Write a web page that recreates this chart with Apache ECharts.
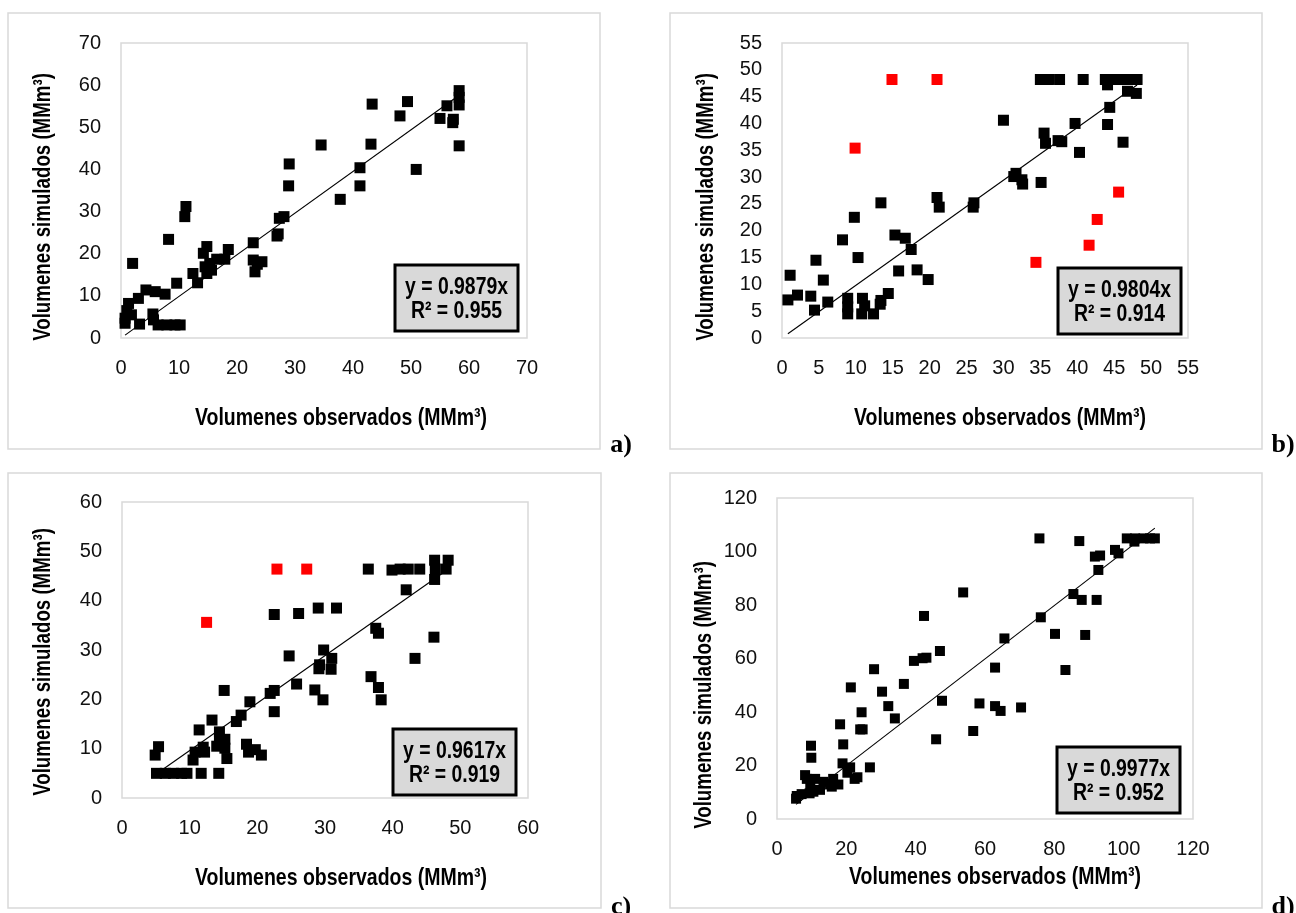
<!DOCTYPE html>
<html><head><meta charset="utf-8">
<script src="https://cdn.jsdelivr.net/npm/echarts/dist/echarts.min.js"></script>
<style>html,body{margin:0;padding:0;background:#fff;}#c{width:1296px;height:913px;}</style>
</head><body><div id="c"></div>
<script>
// ---- data ----
const obsA = [58.3,58.3,58.3,56.2,57.3,57.2,55.0,58.3,49.4,48.1,50.9,43.3,43.1,41.2,41.2,37.8,34.5,29.0,28.9,28.1,27.3,27.1,26.9,22.8,22.8,24.3,23.1,23.5,11.2,11.0,8.2,2.0,14.8,14.2,18.5,17.9,16.5,15.3,14.5,14.8,15.6,12.4,13.2,9.6,4.3,5.9,7.6,3.0,1.3,1.0,1.8,0.7,0.7,3.2,5.5,5.6,6.4,7.9,9.3,10.2];
const simA = [58.7,57.1,55.3,55.1,51.9,51.1,52.1,45.6,56.1,52.7,40.0,55.5,46.0,40.4,36.1,32.9,45.8,41.3,36.1,28.8,28.4,24.7,24.2,22.6,18.5,18.1,15.7,17.5,31.2,28.8,23.4,17.7,21.7,20.1,21.0,18.7,18.7,17.7,16.9,15.3,16.1,15.3,13.1,13.0,11.4,11.0,10.4,9.4,8.2,6.5,5.5,4.7,3.5,3.3,5.7,4.3,3.1,3.1,3.1,3.1];
const obsARed = [];
const simARed = [];

const obsB = [35.0,36.1,37.6,40.8,43.8,44.7,45.6,46.5,47.4,48.1,44.1,46.8,48.0,44.4,39.7,44.1,35.5,35.7,37.4,37.9,40.3,46.2,30.0,31.7,31.4,32.5,32.6,35.1,26.0,25.9,21.0,21.3,13.4,9.8,8.2,10.3,15.3,16.7,17.5,4.6,1.1,5.6,15.8,18.3,19.8,0.8,2.1,3.9,4.4,6.2,8.9,8.9,8.9,10.9,11.2,10.8,12.4,13.3,13.4,14.4];
const simB = [48.2,48.2,48.2,48.2,48.2,48.2,48.2,48.2,48.2,48.2,47.2,46.0,45.6,43.0,40.0,39.8,38.2,36.3,36.8,36.6,34.6,36.5,40.6,30.7,30.1,29.5,28.7,29.0,25.2,24.4,26.2,24.4,25.2,22.5,18.3,15.0,19.2,18.6,16.5,14.5,11.7,10.8,12.5,12.7,10.9,7.1,8.0,7.8,5.2,6.7,7.4,5.8,4.5,7.4,6.0,4.5,4.5,6.3,7.0,8.3];
const obsBRed = [14.9,21.0,9.9,34.4,41.6,42.7,45.6];
const simBRed = [48.2,48.2,35.4,14.1,17.3,22.1,27.2];

const obsC = [46.2,48.2,36.4,39.9,41.1,42.3,44.0,46.3,47.9,46.2,42.0,37.5,37.9,46.1,43.3,36.8,37.9,38.3,22.5,26.1,29.0,31.7,24.7,29.8,31.0,29.2,29.1,30.9,25.8,28.5,29.7,21.9,22.5,22.5,15.1,18.9,17.6,16.9,13.3,11.4,14.4,14.4,15.2,14.0,15.2,15.5,12.0,12.2,10.8,10.5,18.4,18.7,19.7,20.6,5.4,4.9,5.1,6.4,7.6,8.8,9.6,11.7,14.3];
const simC = [48.2,48.2,46.4,46.2,46.4,46.4,46.4,46.4,46.4,44.3,42.2,34.4,33.4,32.6,28.3,24.6,22.4,19.9,37.2,37.4,38.5,38.5,28.8,30.0,28.3,27.0,26.2,26.1,23.1,21.9,19.9,21.2,21.8,17.5,21.8,19.5,16.8,15.5,15.8,13.8,13.4,11.8,11.9,10.5,10.1,8.0,10.3,9.3,9.3,7.7,10.9,9.3,9.8,8.7,10.4,8.7,5.0,5.0,5.0,5.0,5.0,5.0,5.0];
const obsCRed = [22.9,27.3,12.5];
const simCRed = [46.4,46.4,35.6];

const obsD = [75.7,87.2,100.9,103.3,105.7,107.6,109.0,103.1,97.5,98.5,91.7,93.2,92.7,85.5,87.9,92.2,76.1,80.2,88.9,83.2,65.6,62.9,53.7,42.4,39.5,42.0,43.1,47.0,47.6,45.9,56.6,58.4,62.9,64.5,70.4,36.6,30.3,32.1,34.0,28.0,21.3,24.4,24.0,24.7,18.2,19.1,18.9,26.8,9.8,9.9,21.1,20.3,23.2,22.4,16.2,15.8,13.4,11.0,8.6,8.1,9.6,10.5,9.4,7.1,5.7,5.5,12.4,17.7,15.3];
const simD = [104.9,103.9,104.9,104.9,104.9,104.9,104.9,103.7,100.6,99.3,98.1,98.5,93.1,84.1,81.9,81.9,75.4,69.2,68.8,55.7,67.5,56.6,84.7,75.9,59.1,60.1,60.3,62.8,44.2,29.8,32.9,43.2,42.2,40.4,41.7,50.5,47.6,42.2,37.6,56.0,49.2,39.9,33.5,33.5,35.4,27.9,20.8,19.3,27.4,22.9,19.3,17.3,15.6,15.0,15.0,12.1,13.9,15.0,15.0,16.4,12.7,10.2,9.6,9.3,8.6,7.6,10.9,12.9,12.9];
const obsDRed = [];
const simDRed = [];

const slopes = [0.9879, 0.9804, 0.9617, 0.9977];
const r2Values = ['0.955', '0.914', '0.919', '0.952'];
const axisMax = [70, 55, 60, 120];
const axisStep = [10, 5, 10, 20];
const panelLabels = ['a)', 'b)', 'c)', 'd)'];
const xTitle = 'Volumenes observados (MMm³)';
const yTitle = 'Volumenes simulados (MMm³)';

// ---- layout ----
const FONT = "'Liberation Sans',Arial,sans-serif";
const SERIF = "'Liberation Serif','Times New Roman',serif";
const layout = [
  {grid:{left:121,top:43,width:406,height:295}, box:[8,13,592,436], lab:[621,445], eq:[395,265], xt:[341,418], yt:[43,207], ms:11},
  {grid:{left:782,top:43,width:406,height:295}, box:[670,13,592,436], lab:[1283,445], eq:[1058,268], xt:[1000,418], yt:[706,207], ms:11},
  {grid:{left:122,top:502,width:406,height:296}, box:[8,473,593,435], lab:[621,907], eq:[393,729], xt:[341,878], yt:[43,662], ms:11},
  {grid:{left:777,top:498,width:416,height:321}, box:[670,473,592,435], lab:[1283,907], eq:[1057,747], xt:[995,877], yt:[704,695], ms:10}
];
const panels = [
  [obsA, simA, obsARed, simARed],
  [obsB, simB, obsBRed, simBRed],
  [obsC, simC, obsCRed, simCRed],
  [obsD, simD, obsDRed, simDRed]
];
const zip = (a, b) => a.map((v, i) => [v, b[i]]);
const tallText = (x, y, text, rot, sx, z) => ({
  type:'text', silent:true, z:z || 21, x:x, y:y, rotation:rot || 0, scaleX:sx, scaleY:1.2,
  style:{text:text, fontSize:20, fontWeight:'bold', fontFamily:FONT, fill:'#000',
    align:'center', verticalAlign:'middle', textAlign:'center', textVerticalAlign:'middle'}
});

const grids = [], xAxes = [], yAxes = [], series = [], graphics = [];
panels.forEach((p, i) => {
  const L = layout[i];
  grids.push(Object.assign({show:true, borderColor:'#d9d9d9', borderWidth:1.5, backgroundColor:'transparent', containLabel:false}, L.grid));
  const common = {
    gridIndex:i, type:'value', min:0, max:axisMax[i], interval:axisStep[i],
    axisLine:{show:false}, axisTick:{show:false}, splitLine:{show:false}
  };
  xAxes.push(Object.assign({}, common, {axisLabel:{fontSize:20, color:'#111', fontFamily:FONT, margin:20}}));
  yAxes.push(Object.assign({}, common, {axisLabel:{fontSize:20, color:'#111', fontFamily:FONT, margin:20}}));
  const allX = p[0].concat(p[2]);
  const x0 = Math.min.apply(null, allX), x1 = Math.max.apply(null, allX);
  series.push({type:'scatter', xAxisIndex:i, yAxisIndex:i, symbol:'rect', symbolSize:L.ms,
    itemStyle:{color:'#000', opacity:1}, data:zip(p[0], p[1]), z:3, silent:true});
  if (p[2].length) series.push({type:'scatter', xAxisIndex:i, yAxisIndex:i, symbol:'rect', symbolSize:L.ms,
    itemStyle:{color:'#ff0000', opacity:1}, data:zip(p[2], p[3]), z:3, silent:true});
  series.push({type:'line', xAxisIndex:i, yAxisIndex:i, symbol:'none', silent:true,
    lineStyle:{color:'#000', width:1.1}, data:[[x0, slopes[i]*x0],[x1, slopes[i]*x1]], z:4});
  // outer chart-area frame
  graphics.push({type:'rect', silent:true, z:-10, shape:{x:L.box[0], y:L.box[1], width:L.box[2], height:L.box[3]},
    style:{fill:'none', stroke:'#d9d9d9', lineWidth:1.5}});
  // axis titles
  graphics.push(tallText(L.xt[0], L.xt[1], xTitle, 0, 0.975));
  graphics.push(tallText(L.yt[0], L.yt[1], yTitle, Math.PI/2, 0.935));
  // panel label
  graphics.push({type:'text', silent:true, x:L.lab[0], y:L.lab[1],
    style:{text:panelLabels[i], fontSize:26, fontWeight:'bold', fontFamily:SERIF, fill:'#000',
      align:'center', verticalAlign:'middle', textAlign:'center', textVerticalAlign:'middle'}});
  // equation box
  graphics.push({type:'rect', silent:true, z:20, shape:{x:L.eq[0], y:L.eq[1], width:123, height:66},
    style:{fill:'#d9d9d9', stroke:'#000', lineWidth:3}});
  graphics.push(tallText(L.eq[0]+61.5, L.eq[1]+22, 'y = ' + slopes[i].toFixed(4) + 'x', 0, 0.97));
  graphics.push(tallText(L.eq[0]+61.5, L.eq[1]+46, 'R² = ' + r2Values[i], 0, 0.97));
});

const chart = echarts.init(document.getElementById('c'), null, {renderer:'canvas'});
chart.setOption({
  animation:false, backgroundColor:'#fff',
  grid:grids, xAxis:xAxes, yAxis:yAxes, series:series, graphic:graphics
});
</script>
</body></html>
